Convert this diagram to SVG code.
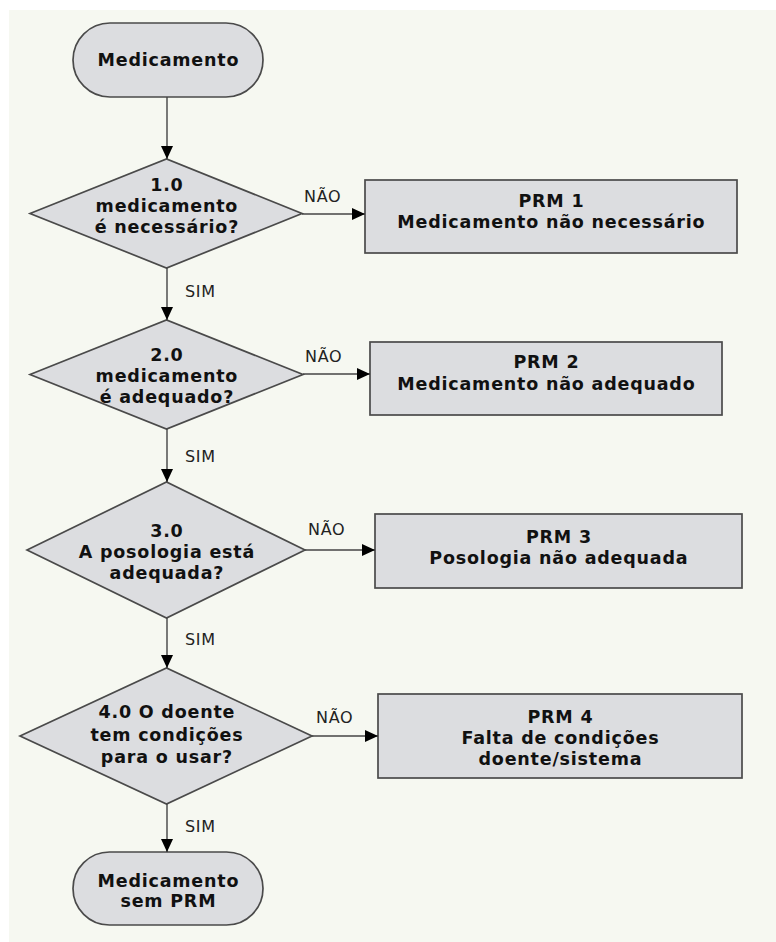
<svg xmlns="http://www.w3.org/2000/svg" width="776" height="942" viewBox="0 0 776 942">
<defs>
<marker id="ah" markerUnits="userSpaceOnUse" markerWidth="14" markerHeight="12" refX="13" refY="6" orient="auto">
<path d="M0,0 L13,6 L0,12 Z" fill="#000"/>
</marker>
<style>
.shape{fill:#dcdde0;stroke:#4a4a4a;stroke-width:1.7}
.t{font-family:"DejaVu Sans",Verdana,sans-serif;font-weight:bold;font-size:17.5px;letter-spacing:0.8px;fill:#111;text-anchor:middle}
.lbl{font-family:"DejaVu Sans",Verdana,sans-serif;font-size:16px;letter-spacing:0.7px;fill:#222}
.c{stroke:#444;stroke-width:1.4;fill:none;marker-end:url(#ah)}
</style>
</defs>
<rect x="0" y="0" width="776" height="942" fill="#ffffff"/>
<rect x="9" y="10" width="767" height="932" fill="#f6f8f1"/>

<g id="start">
<rect class="shape" x="73" y="23" width="190" height="74" rx="37"/>
<text class="t" x="168.4" y="66">Medicamento</text>
</g>
<g id="d1">
<polygon class="shape" points="30,213.5 166.5,159 302,213.5 166.5,268"/>
<text class="t" x="166.9" y="191">1.0</text>
<text class="t" x="166.9" y="212">medicamento</text>
<text class="t" x="166.9" y="233">é necessário?</text>
</g>
<g id="prm1">
<rect class="shape" x="365" y="180" width="372" height="73"/>
<text class="t" x="551.4" y="207">PRM 1</text>
<text class="t" x="551.4" y="228">Medicamento não necessário</text>
</g>
<g id="d2">
<polygon class="shape" points="30,374.5 166.5,320 303,374.5 166.5,429"/>
<text class="t" x="166.9" y="361">2.0</text>
<text class="t" x="166.9" y="382">medicamento</text>
<text class="t" x="166.9" y="403">é adequado?</text>
</g>
<g id="prm2">
<rect class="shape" x="370" y="342" width="352" height="73"/>
<text class="t" x="546.4" y="368">PRM 2</text>
<text class="t" x="546.4" y="390">Medicamento não adequado</text>
</g>
<g id="d3">
<polygon class="shape" points="27,550 166.5,482 305,550 166.5,618"/>
<text class="t" x="166.9" y="537">3.0</text>
<text class="t" x="166.9" y="558">A posologia está</text>
<text class="t" x="166.9" y="579">adequada?</text>
</g>
<g id="prm3">
<rect class="shape" x="375" y="514" width="367" height="74"/>
<text class="t" x="558.9" y="543">PRM 3</text>
<text class="t" x="558.9" y="564">Posologia não adequada</text>
</g>
<g id="d4">
<polygon class="shape" points="20,736 166.5,668 312,736 166.5,804"/>
<text class="t" x="166.9" y="718">4.0 O doente</text>
<text class="t" x="166.9" y="741">tem condições</text>
<text class="t" x="166.9" y="763">para o usar?</text>
</g>
<g id="prm4">
<rect class="shape" x="378" y="694" width="364" height="84"/>
<text class="t" x="560.4" y="723">PRM 4</text>
<text class="t" x="560.4" y="744">Falta de condições</text>
<text class="t" x="560.4" y="765">doente/sistema</text>
</g>
<g id="end">
<rect class="shape" x="73" y="852" width="190" height="73" rx="36.5"/>
<text class="t" x="168.4" y="887">Medicamento</text>
<text class="t" x="168.4" y="907">sem PRM</text>
</g>

<g id="connectors">
<line class="c" x1="167" y1="97" x2="167" y2="159"/>
<line class="c" x1="302" y1="214" x2="365" y2="214"/>
<line class="c" x1="167" y1="268" x2="167" y2="320"/>
<line class="c" x1="303" y1="374" x2="370" y2="374"/>
<line class="c" x1="167" y1="429" x2="167" y2="482"/>
<line class="c" x1="305" y1="550" x2="375" y2="550"/>
<line class="c" x1="167" y1="618" x2="167" y2="668"/>
<line class="c" x1="312" y1="736" x2="378" y2="736"/>
<line class="c" x1="167" y1="804" x2="167" y2="852"/>
<text class="lbl" x="304" y="202">NÃO</text>
<text class="lbl" x="185" y="297">SIM</text>
<text class="lbl" x="305" y="362">NÃO</text>
<text class="lbl" x="185" y="462">SIM</text>
<text class="lbl" x="308" y="535">NÃO</text>
<text class="lbl" x="185" y="645">SIM</text>
<text class="lbl" x="316" y="723">NÃO</text>
<text class="lbl" x="185" y="832">SIM</text>
</g>
</svg>
